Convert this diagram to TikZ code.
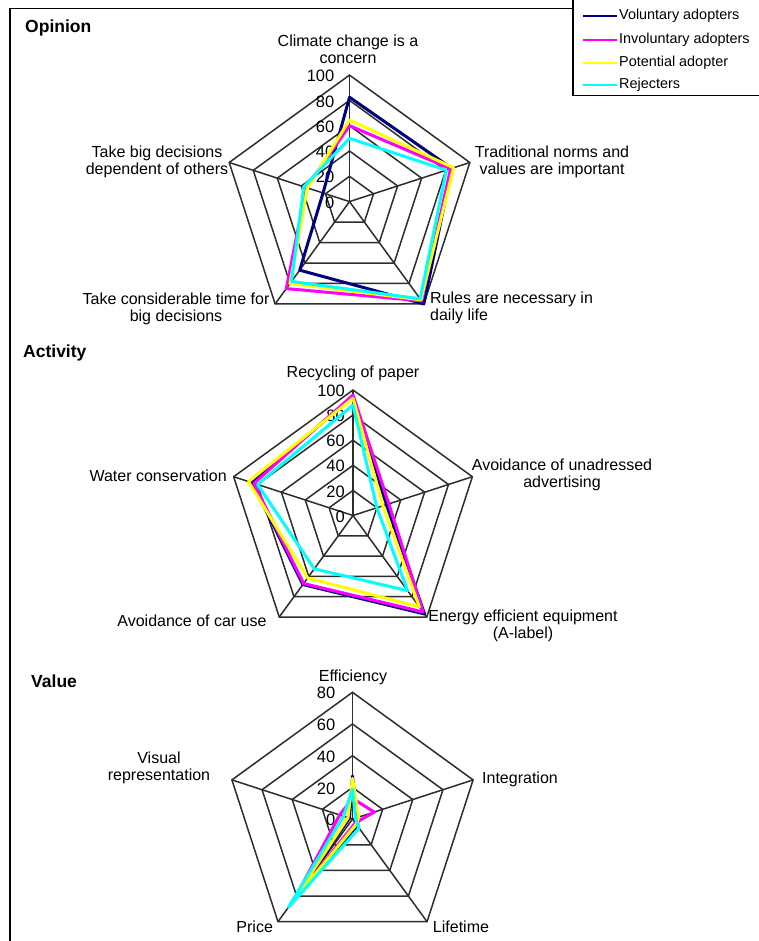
\documentclass[tikz,border=0pt]{standalone}
\usepackage{fontspec}
\setmainfont{Liberation Sans}

\definecolor{volcol}{RGB}{0,0,128}
\definecolor{invcol}{RGB}{255,0,255}
\definecolor{potcol}{RGB}{255,255,0}
\definecolor{rejcol}{RGB}{0,255,255}
\definecolor{gridcol}{RGB}{45,45,45}

% one closed data polygon over the five spokes (top, then clockwise)
\newcommand\radarseries[6]{%
  \draw[#1] (90:{\rs*#2}) -- (18:{\rs*#3}) -- (-54:{\rs*#4})
    -- (-126:{\rs*#5}) -- (162:{\rs*#6}) -- cycle;}

% pentagonal rings and spokes: radius, number of rings
\newcommand\radargrid[2]{%
  \foreach \i in {1,...,#2}{%
    \pgfmathsetmacro\rr{#1*\i/#2}
    \draw[gridline] (90:\rr) -- (18:\rr) -- (-54:\rr) -- (-126:\rr) -- (162:\rr) -- cycle;}
  \foreach \a in {90,18,-54,-126,162}
    \draw[gridline] (0,0) -- (\a:#1);}

\tikzset{
  gridline/.style={draw=gridcol, line width=1.5pt},
  serie/.style={line width=3pt, line join=round},
  vol/.style={serie, draw=volcol},
  inv/.style={serie, draw=invcol},
  pot/.style={serie, draw=potcol},
  rej/.style={serie, draw=rejcol},
  catlabel/.style={inner sep=0pt, align=center, font=\fontsize{16}{17}\selectfont},
  ticklabel/.style={inner sep=0pt, anchor=east, font=\fontsize{16.5}{17}\selectfont},
  charttitle/.style={inner sep=0pt, anchor=west, font=\bfseries\fontsize{17.5}{20}\selectfont},
  legtext/.style={inner sep=0pt, anchor=west, font=\fontsize{14.4}{16}\selectfont},
}

\begin{document}
\begin{tikzpicture}[x=1pt, y=-1pt]
\useasboundingbox (0,0) rectangle (759,941);
\clip (0,0) rectangle (759,941);
\fill[white] (0,0) rectangle (759,941);

% outer frame (left and top edges)
\draw[line width=1.5pt, draw=black] (10,941) -- (10,8.3) -- (573,8.3);

% ---------------- Opinion ----------------
\node[charttitle] (t1) at (25,28.3) {Opinion};
\begin{scope}[shift={(349.5,201.6)}, yscale=-1]
  \pgfmathsetmacro\rs{126.5/100}
  \radargrid{126.5}{5}
  \foreach \i/\t in {0/0,1/20,2/40,3/60,4/80,5/100}
    \node[ticklabel] (o\i) at (-15,{126.5*\i/5-1}) {\t};
  \radarseries{vol}{82.5}{85}{100}{67}{22}
  \radarseries{inv}{60}{84}{97}{85}{36}
  \radarseries{pot}{64.5}{86.5}{96}{80}{35}
  \radarseries{rej}{50}{80.5}{95}{78}{38}
\end{scope}
\node[catlabel] (oa) at (348,49) {Climate change is a\\concern};
\node[catlabel] (ob) at (552,161.5) {Traditional norms and\\values are important};
\node[catlabel, anchor=west, align=left] (oc) at (430,308) {Rules are necessary in\\daily life};
\node[catlabel] (od) at (176,308.5) {Take considerable time for\\big decisions};
\node[catlabel] (oe) at (157,161.5) {Take big decisions\\dependent of others};

% ---------------- Activity ----------------
\node[charttitle] (t2) at (23,353) {Activity};
\begin{scope}[shift={(353,515.5)}, yscale=-1]
  \pgfmathsetmacro\rs{125.5/100}
  \radargrid{125.5}{5}
  \foreach \i/\t in {0/0,1/20,2/40,3/60,4/80,5/100}
    \node[ticklabel] (a\i) at (-8,{125.5*\i/5-1}) {\t};
  \radarseries{vol}{95}{28}{97}{68}{84.5}
  \radarseries{inv}{96}{30}{95}{67}{83}
  \radarseries{pot}{93.4}{25}{90}{61.5}{87.6}
  \radarseries{rej}{88}{20}{74}{52.5}{80}
\end{scope}
\node[catlabel] (aa) at (353,373) {Recycling of paper};
\node[catlabel] (ab) at (562,474.5) {Avoidance of unadressed\\advertising};
\node[catlabel] (ac) at (523,625.5) {Energy efficient equipment\\(A-label)};
\node[catlabel] (ad) at (192,621) {Avoidance of car use};
\node[catlabel, anchor=east] (ae) at (227,476) {Water conservation};

% ---------------- Value ----------------
\node[charttitle] (t3) at (31,681.7) {Value};
\begin{scope}[shift={(352.5,819.1)}, yscale=-1]
  \pgfmathsetmacro\rs{126.8/80}
  \radargrid{126.8}{4}
  \foreach \i/\t in {0/0,1/20,2/40,3/60,4/80}
    \node[ticklabel] (v\i) at (-17,{126.8*\i/4-1}) {\t};
  \radarseries{vol}{27.2}{3}{6}{63}{2}
  \radarseries{inv}{13.1}{14.4}{3}{62.5}{8.5}
  \radarseries{pot}{25.7}{4}{4}{64}{3}
  \radarseries{rej}{18.8}{2}{7}{68.8}{6}
\end{scope}
\node[catlabel] (va) at (353,677) {Efficiency};
\node[catlabel] (vb) at (520,779) {Integration};
\node[catlabel] (vc) at (461,927) {Lifetime};
\node[catlabel] (vd) at (254.7,926.7) {Price};
\node[catlabel] (ve) at (159,768) {Visual\\representation};

% ---------------- Legend ----------------
\draw[line width=1.5pt, draw=black, fill=white] (573,-3) rectangle (765,95.5);
\foreach \y/\st/\txt [count=\n] in {16/vol/Voluntary adopters, 40/inv/Involuntary adopters,
                                    63/pot/Potential adopter, 85/rej/Rejecters}{
  \coordinate (ls\n) at (583,\y);
  \coordinate (le\n) at (617,\y);
  \draw[\st, line width=2.6pt] (ls\n) -- (le\n);
  \node[legtext] (lt\n) at (619,\y) {\txt};
}
\end{tikzpicture}
\end{document}
